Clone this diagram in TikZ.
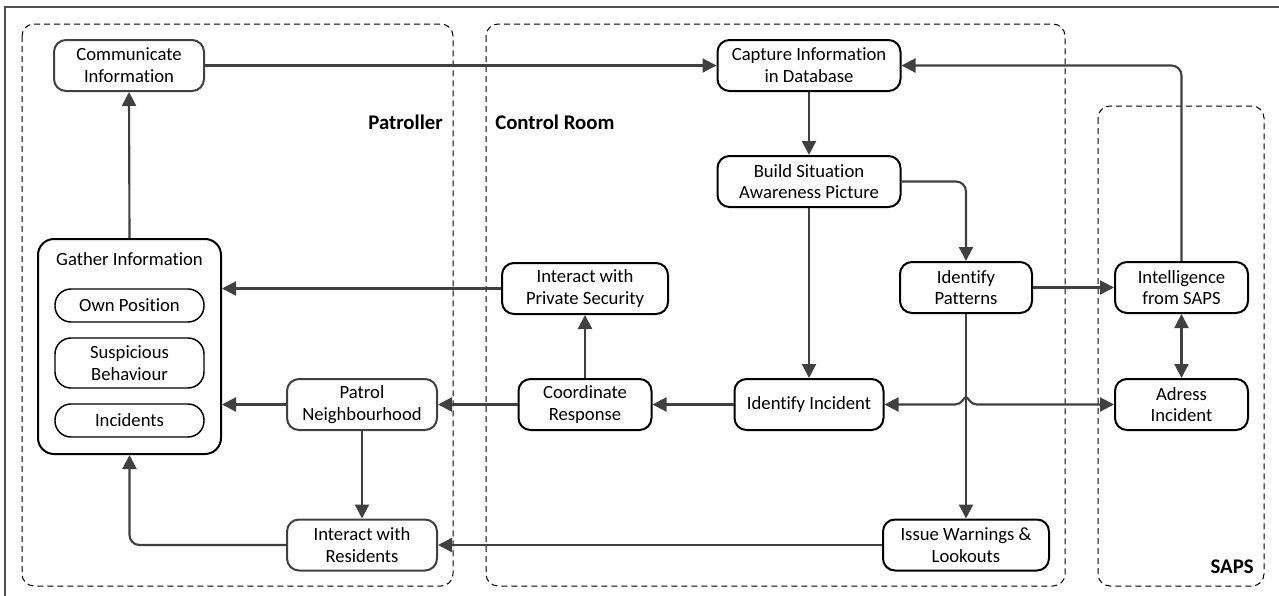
\documentclass[tikz,border=0pt]{standalone}
\usepackage{fontspec}
\setmainfont{Carlito}[Ligatures=NoCommon]
\usetikzlibrary{arrows.meta}
\definecolor{conn}{HTML}{404040}
\definecolor{framegray}{HTML}{505050}
\begin{document}
\begin{tikzpicture}[x=0.75pt,y=-0.75pt,
  >={Triangle[length=10.5pt,width=10.5pt]},
  every node/.style={font=\fontsize{14}{16.3}\selectfont, align=center, inner sep=0pt},
  proc/.style={draw=black, line width=1.5pt, rounded corners=9pt, minimum height=38.25pt},
  patproc/.style={proc, draw=conn},
  item/.style={draw=black, line width=1.1pt, rounded corners=12pt, minimum width=111.75pt},
  lane/.style={draw=black, line width=0.75pt, dash pattern=on 4.5pt off 3pt, rounded corners=9pt},
  lanelabel/.style={font=\fontsize{15.6}{18}\selectfont\bfseries},
  flow/.style={draw=conn, line width=1.6pt, ->, rounded corners=7.5pt},
  frame/.style={draw=framegray, line width=1.1pt},
]
\useasboundingbox (0,0) rectangle (1279,596);

% outer frame
\draw[frame] (5,605) -- (5,7) -- (1290,7);

% swimlanes
\draw[lane] (22,24) rectangle (453,586);
\draw[lane] (486,24) rectangle (1065,586);
\draw[lane] (1098,106) rectangle (1264,586);
\node[lanelabel, anchor=east] (lpat) at (443,122) {Patroller};
\node[lanelabel, anchor=west] (lctl) at (495,122) {Control Room};
\node[lanelabel, anchor=east] (lsaps) at (1254,567) {SAPS};

% Patroller
\node[patproc, minimum width=112.5pt] (comm) at (129,65.5) {Communicate\\Information};
\node[draw=black, line width=1.5pt, rounded corners=12pt, minimum width=137.25pt, minimum height=161.25pt] (gather) at (129.5,346.5) {};
\node (gtitle) at (129.5,259) {Gather Information};
\node[item, minimum height=24.75pt] (own) at (129.5,305.5) {Own Position};
\node[item, minimum height=37.5pt] (susp) at (129.5,363) {Suspicious\\Behaviour};
\node[item, minimum height=24.75pt] (inc) at (129.5,420.5) {Incidents};
\node[patproc, minimum width=112.5pt] (patrol) at (362,404.5) {Patrol\\Neighbourhood};
\node[patproc, minimum width=112.5pt] (res) at (362,545) {Interact with\\Residents};

% Control Room
\node[proc, minimum width=137.25pt] (cap) at (809,65.5) {Capture Information\\in Database};
\node[proc, minimum width=137.25pt] (build) at (809,181.5) {Build Situation\\Awareness Picture};
\node[proc, minimum width=99pt] (pat) at (966,287.5) {Identify\\Patterns};
\node[proc, minimum width=124.5pt] (priv) at (585,288.5) {Interact with\\Private Security};
\node[proc, minimum width=99.75pt] (coord) at (585,404.5) {Coordinate\\Response};
\node[proc, minimum width=111.75pt] (idinc) at (809,404.5) {Identify Incident};
\node[proc, minimum width=124.5pt] (warn) at (966,545) {Issue Warnings \&\\Lookouts};

% SAPS
\node[proc, minimum width=99.75pt] (intel) at (1181.5,287.5) {Intelligence\\from SAPS};
\node[proc, minimum width=99.75pt] (adr) at (1181.5,404.5) {Adress\\Incident};

% jump of the incident line over the pattern line
\coordinate (jumpL) at (955,404.5);
\coordinate (jumpT) at (966,397);
\coordinate (jumpR) at (977,404.5);

% connectors
\draw[flow] (comm.east) -- (cap.west);
\draw[flow] (intel.north) |- (cap.east);
\draw[flow] (cap.south) -- (build.north);
\draw[flow] (build.east) -| (pat.north);
\draw[flow] (build.south) -- (idinc.north);
\draw[flow] (pat.east) -- (intel.west);
\draw[flow] (pat.south) -- (warn.north);
\draw[flow, <->, sharp corners] (idinc.east) -- (jumpL)
  .. controls (962,404.5) and (964,397) .. (jumpT)
  .. controls (968,397) and (970,404.5) .. (jumpR) -- (adr.west);
\draw[flow, <->] (intel.south) -- (adr.north);
\draw[flow] (idinc.west) -- (coord.east);
\draw[flow] (coord.north) -- (priv.south);
\draw[flow] (coord.west) -- (patrol.east);
\draw[flow] (priv.west) -- (priv.west -| gather.east);
\draw[flow] (patrol.west) -- (patrol.west -| gather.east);
\draw[flow] (patrol.south) -- (res.north);
\draw[flow] (res.west) -| (gather.south);
\draw[flow] (warn.west) -- (res.east);
\draw[flow] (gather.north) -- (comm.south);
\end{tikzpicture}
\end{document}
